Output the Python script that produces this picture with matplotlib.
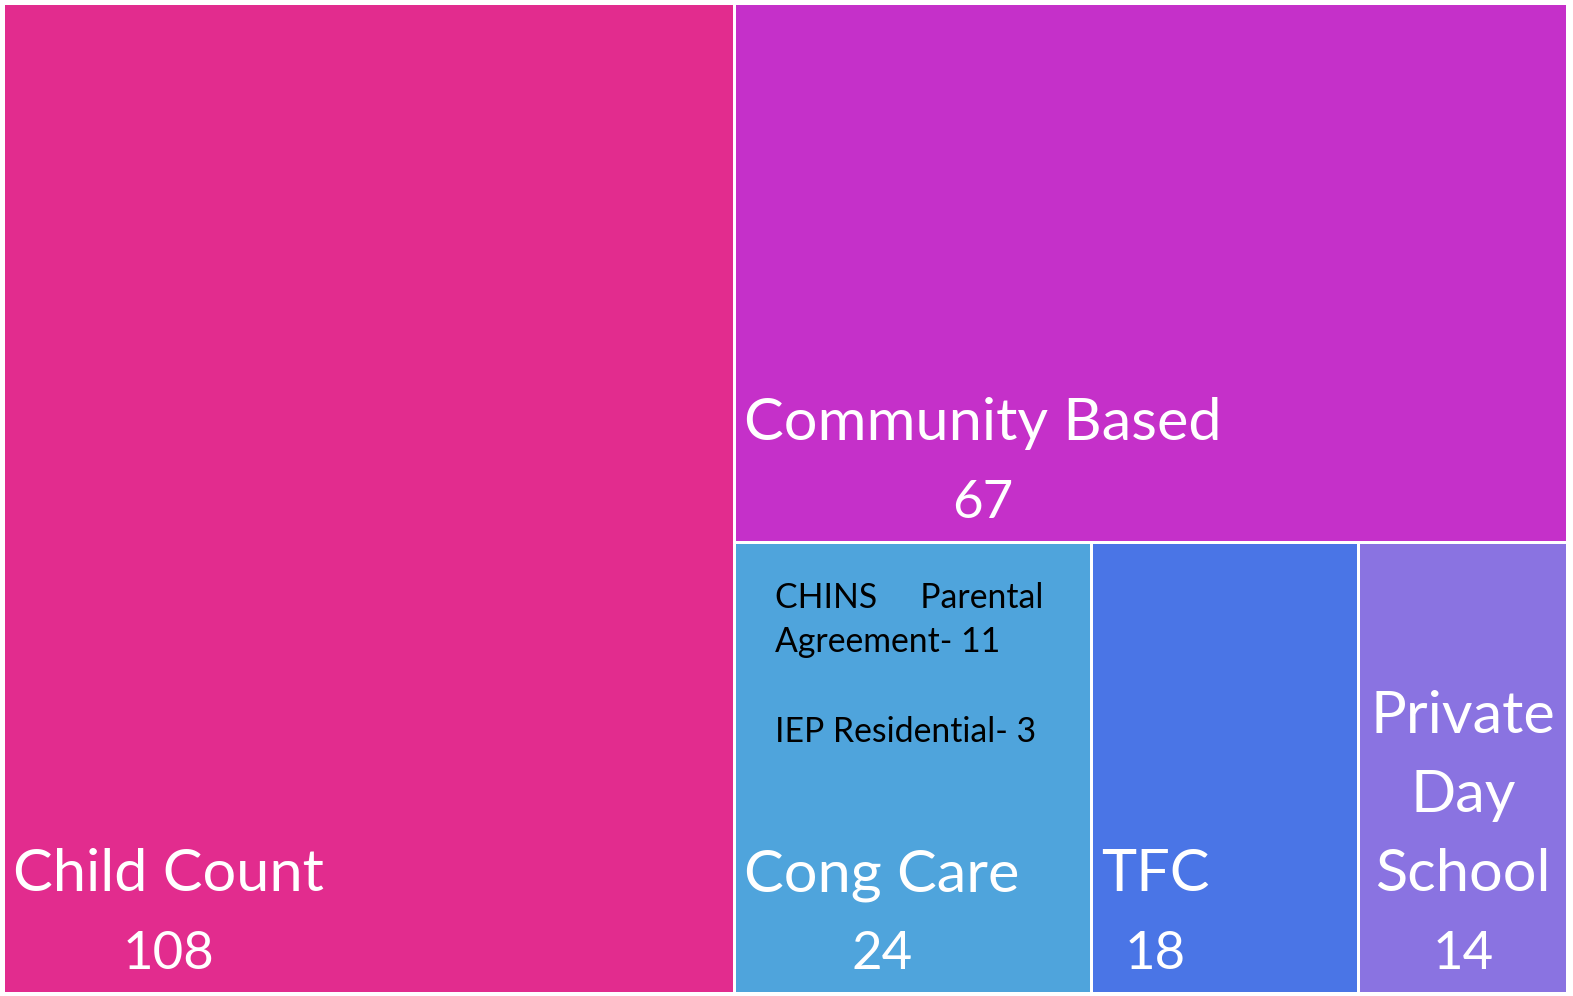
import matplotlib
matplotlib.use('Agg')
import matplotlib.pyplot as plt
from matplotlib.patches import Rectangle

# ---- data ----
categories = ["Child Count", "Community Based", "Cong Care", "TFC", "Private Day School"]
values = [108, 67, 24, 18, 14]
label_lines = [["Child Count"], ["Community Based"], ["Cong Care"], ["TFC"],
               ["Private", "Day", "School"]]
colors = ["#E22C8E", "#C530C9", "#4FA4DC", "#4A75E6", "#8A73E1"]
note_lines = ["CHINS     Parental", "Agreement- 11", "", "IEP Residential- 3"]

FONT = "Lato"
W, H = 1573, 996
fig = plt.figure(figsize=(W / 100, H / 100), dpi=100)
fig.patch.set_facecolor("white")
ax = fig.add_axes([0, 0, 1, 1])
ax.set_xlim(0, W)
ax.set_ylim(H, 0)
ax.axis("off")


def squarify(vals, x, y, w, h):
    total = sum(vals)
    scale = w * h / total
    areas = [v * scale for v in vals]
    rects = []

    def worst(row, side):
        s = sum(row)
        return max(max(side * side * r / (s * s), s * s / (side * side * r)) for r in row)

    i = 0
    while i < len(areas):
        side = min(w, h)
        row = [areas[i]]
        i += 1
        while i < len(areas) and worst(row + [areas[i]], side) <= worst(row, side):
            row.append(areas[i])
            i += 1
        s = sum(row)
        if w >= h:
            cw = s / h
            cy = y
            for a in row:
                rh = a / cw
                rects.append((x, cy, cw, rh))
                cy += rh
            x += cw
            w -= cw
        else:
            rh = s / w
            cx = x
            for a in row:
                rw = a / rh
                rects.append((cx, y, rw, rh))
                cx += rw
            y += rh
            h -= rh
    return rects


rects = squarify(values, 3, 3, 1564, 990)
gap = 1.5
for (rx, ry, rw, rh), c in zip(rects, colors):
    ax.add_patch(Rectangle((rx + gap, ry + gap), rw - 2 * gap, rh - 2 * gap,
                           facecolor=c, edgecolor="none"))

name_pt = 42.8
num_pt = 38
line_px = 79
fig.canvas.draw()
renderer = fig.canvas.get_renderer()

for (rx, ry, rw, rh), lines, v in zip(rects, label_lines, values):
    bottom = ry + rh
    if len(lines) == 1:
        t = ax.text(rx + 10, bottom - 102, lines[0], fontsize=name_pt, family=FONT,
                    color="white", ha="left", va="baseline")
        bb = t.get_window_extent(renderer)
        x0 = ax.transData.inverted().transform((bb.x0, 0))[0]
        x1 = ax.transData.inverted().transform((bb.x1, 0))[0]
        cx = (x0 + x1) / 2
    else:
        cx = rx + rw / 2
        n = len(lines)
        for k, ln in enumerate(lines):
            ax.text(cx, bottom - 102 - (n - 1 - k) * line_px, ln, fontsize=name_pt,
                    family=FONT, color="white", ha="center", va="baseline")
    ax.text(cx, bottom - 24, str(v), fontsize=num_pt, family=FONT, color="white",
            ha="center", va="baseline")

# note in Cong Care box
rx, ry, rw, rh = rects[2]
offs = [66, 110, 155, 200]
for ln, o in zip(note_lines, offs):
    if ln:
        ax.text(rx + 41, ry + o, ln, fontsize=24.3, family=FONT, color="black",
                ha="left", va="baseline")

fig.savefig("out.png", dpi=100, facecolor="white")
